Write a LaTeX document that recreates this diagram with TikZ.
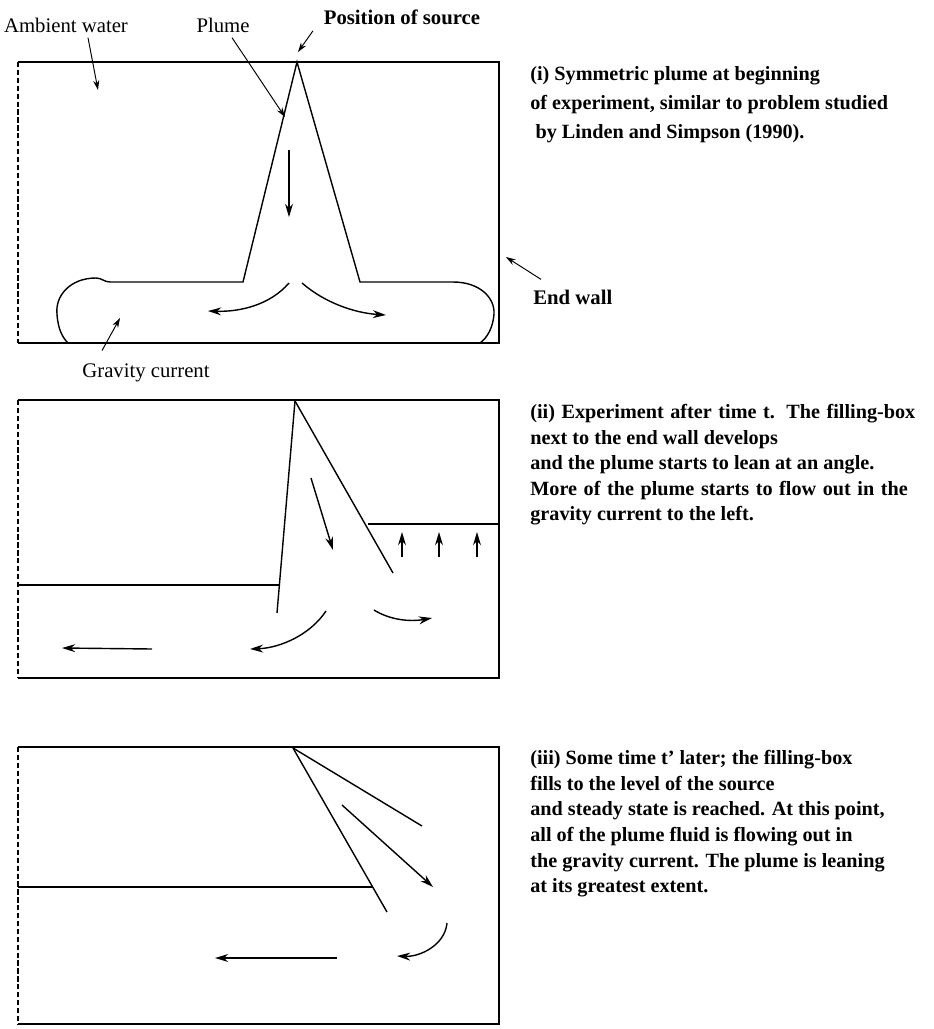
\documentclass[tikz,border=0pt]{standalone}
\usepackage{fontspec}
\setmainfont{Liberation Serif}
\usetikzlibrary{arrows.meta}

\begin{document}
\begin{tikzpicture}[
  x=0.02cm, y=-0.02cm,
  parete/.style={draw=black, line width=0.9pt},
  aperta/.style={draw=black, line width=0.7pt, dash pattern=on 3pt off 1.5pt},
  pennacchio/.style={draw=black, line width=0.8pt},
  flusso/.style={draw=black, line width=0.8pt, -{Stealth[length=7.5pt,width=4.5pt]}},
  rimando/.style={draw=black, line width=0.55pt, -{Stealth[length=5.5pt,width=3.5pt]}},
  etichetta/.style={font=\fontsize{11.8}{14}\selectfont, inner sep=0pt},
  grassetto/.style={font=\fontsize{11.8}{14}\selectfont\bfseries, inner sep=0pt},
  didascalia/.style={font=\fontsize{11.5}{#1}\selectfont\bfseries, align=left,
                     anchor=north west, inner sep=0pt}
]
\useasboundingbox (0,0) rectangle (934,1029);

% vasche
\foreach \a/\b in {62/343, 400/678, 747/1024} {
  \draw[parete] (18,\a) -- (499,\a) -- (499,\b) -- (18,\b);
  \draw[aperta] (18,\a) -- (18,\b);
}
\coordinate (S1) at (297,62);
\coordinate (S2) at (295,401);
\coordinate (S3) at (293,748);

% (i) pennacchio simmetrico
\draw[pennacchio] (110,282) -- (243,282) -- (S1) -- (360,282) -- (453,282);
\draw[pennacchio] (110,282) .. controls (104,282) and (102,278) .. (96,278)
  .. controls (70,278) and (55,296) .. (57,314) .. controls (58,330) and (63,338) .. (68,343);
\draw[pennacchio] (453,282) .. controls (480,282) and (495,298) .. (494,314)
  .. controls (493,328) and (487,338) .. (480,343);
\draw[flusso] (289,150) -- (289,217);
\draw[flusso] (289,283) .. controls (270,305) and (240,312) .. (208,311);
\draw[flusso] (302,283) .. controls (325,303) and (355,313) .. (386,315);

\node[etichetta] (ambiente) at (66,25) {Ambient water};
\node[etichetta] (plume) at (223,25) {Plume};
\node[grassetto] (sorgente) at (402,17) {Position of source};
\node[grassetto, anchor=west] (muro) at (533,297) {End wall};
\node[etichetta] (corrente) at (146,373) {Gravity current};
\coordinate (acqua) at (98,90);
\coordinate (bordo) at (285,117);
\coordinate (punta) at (298,52);
\coordinate (fondo) at (506,257);
\coordinate (testa) at (120,318);
\draw[rimando] ([xshift=0.44cm,yshift=-0.1cm]ambiente.south) -- (acqua);
\draw[rimando] ([xshift=0.18cm,yshift=-0.1cm]plume.south) -- (bordo);
\draw[rimando] ([xshift=-1.78cm,yshift=-0.12cm]sorgente.south) -- (punta);
\draw[rimando] ([xshift=0.16cm,yshift=0.2cm]muro.north west) -- (fondo);
\draw[rimando] ([xshift=-0.88cm,yshift=0.26cm]corrente.north) -- (testa);

\node[didascalia=16.5pt] (testo1) at (530,66)
  {(i) Symmetric plume at beginning\\ of experiment, similar to problem studied\\
   \hspace{3pt}by Linden and Simpson (1990).};

% (ii) dopo il tempo t
\draw[pennacchio] (18,585) -- (279,585);
\draw[pennacchio] (S2) -- (277,613);
\draw[pennacchio] (S2) -- (393,573);
\draw[pennacchio] (368,524) -- (499,524);
\foreach \x in {402,439,477}
  \draw[flusso] (\x,557) -- (\x,532);
\draw[flusso] (311,478) -- (333,550);
\draw[flusso] (326,611) .. controls (310,635) and (280,648) .. (250,649);
\draw[flusso] (374,610) .. controls (390,620) and (410,622) .. (432,618);
\draw[flusso] (152,649) -- (62,648);

\node[didascalia=14.5pt] (testo2) at (530,404)
  {\makebox[7.7cm][s]{(ii) Experiment after time t. The filling-box}\\ next to the end wall develops\\
   and the plume starts to lean at an angle.\\
   \makebox[7.55cm][s]{More of the plume starts to flow out in the}\\
   gravity current to the left.};

% (iii) stato stazionario
\draw[pennacchio] (18,887) -- (373,887);
\draw[pennacchio] (S3) -- (387,912);
\draw[pennacchio] (S3) -- (422,826);
\draw[flusso] (342,805) -- (433,887);
\draw[flusso] (447,923) .. controls (445,945) and (420,957) .. (397,956);
\draw[flusso] (337,958) -- (215,958);

\node[didascalia=14.6pt] (testo3) at (530,750)
  {(iii) Some time t' later; the filling-box\\ fills to the level of the source\\
   and steady state is reached. At this point,\\ all of the plume fluid is flowing out in\\
   the gravity current. The plume is leaning\\ at its greatest extent.};

\end{tikzpicture}
\end{document}
